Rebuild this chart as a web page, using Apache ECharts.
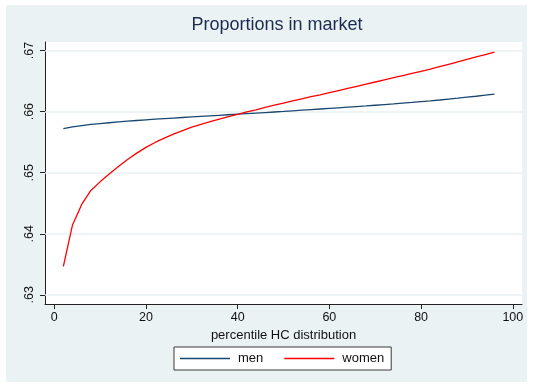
<!DOCTYPE html>
<html>
<head>
<meta charset="utf-8">
<script src="https://cdn.jsdelivr.net/npm/echarts@6/dist/echarts.min.js"></script>
<style>
  html, body { margin: 0; padding: 0; background: #ffffff; }
  #chart { width: 533px; height: 387px; }
</style>
</head>
<body>
<div id="chart"></div>
<script>
// Percentiles of the HC distribution (x values)
const percentiles = [2, 4, 6, 8, 10, 12, 14, 16, 18, 20, 22, 24, 26, 28, 30, 32, 34, 36, 38, 40,
  42, 44, 46, 48, 50, 52, 54, 56, 58, 60, 62, 64, 66, 68, 70, 72, 74, 76, 78, 80,
  82, 84, 86, 88, 90, 92, 94, 96];

// Proportion in market, men
const men = [0.65720, 0.65750, 0.65772, 0.65790, 0.65805, 0.65818, 0.65831, 0.65843, 0.65855, 0.65866,
  0.65876, 0.65886, 0.65895, 0.65904, 0.65913, 0.65922, 0.65931, 0.65940, 0.65949, 0.65958,
  0.65967, 0.65976, 0.65985, 0.65994, 0.66003, 0.66013, 0.66023, 0.66033, 0.66043, 0.66053,
  0.66063, 0.66073, 0.66083, 0.66093, 0.66104, 0.66115, 0.66126, 0.66138, 0.66150, 0.66163,
  0.66176, 0.66190, 0.66205, 0.66220, 0.66236, 0.66252, 0.66269, 0.66286];

// Proportion in market, women
const women = [0.63465, 0.64145, 0.64480, 0.64710, 0.64850, 0.64980, 0.65100, 0.65215, 0.65320, 0.65415,
  0.65495, 0.65565, 0.65630, 0.65690, 0.65745, 0.65790, 0.65835, 0.65878, 0.65918, 0.65955,
  0.65995, 0.66030, 0.66070, 0.66105, 0.66140, 0.66175, 0.66210, 0.66245, 0.66275, 0.66310,
  0.66345, 0.66380, 0.66415, 0.66450, 0.66485, 0.66520, 0.66555, 0.66590, 0.66625, 0.66660,
  0.66695, 0.66735, 0.66775, 0.66815, 0.66855, 0.66895, 0.66935, 0.66975];

// Axis tick positions
const xTicks = [0, 20, 40, 60, 80, 100];
const yTicks = [0.63, 0.64, 0.65, 0.66, 0.67];

const pairs = (ys) => percentiles.map((p, i) => [p, ys[i]]);

const chart = echarts.init(document.getElementById('chart'), null, { renderer: 'canvas' });

const axisColor = '#222222';
const bgColor = '#eaf2f3';
const font = 'Liberation Sans, Arial, sans-serif';
// thin horizontal bar used as the legend key
const lineKey = 'path://M0,0H50V1.3H0Z';

chart.setOption({
  animation: false,
  backgroundColor: '#ffffff',
  graphic: [{
    type: 'rect',
    z: -10,
    shape: { x: 6, y: 5, width: 521, height: 377 },
    style: { fill: bgColor }
  }],
  title: {
    text: 'Proportions in market',
    left: 277,
    textAlign: 'center',
    top: 16,
    padding: 0,
    textStyle: { fontFamily: font, fontSize: 18, fontWeight: 'normal', color: '#1c2b4f' }
  },
  grid: {
    left: 45, top: 42, right: 11, bottom: 83,
    show: true, backgroundColor: '#ffffff', borderWidth: 0
  },
  legend: {
    data: [{ name: 'men', icon: lineKey }, { name: 'women', icon: lineKey }],
    left: 174, top: 347,
    padding: [5, 7, 5, 6],
    itemWidth: 50, itemHeight: 14, itemGap: 21,
    symbolKeepAspect: true,
    backgroundColor: '#ffffff',
    borderColor: '#3a3a3a', borderWidth: 1, borderRadius: 0,
    textStyle: { fontFamily: font, fontSize: 13, color: '#111111', padding: [0, 0, 0, 3] }
  },
  xAxis: {
    type: 'value',
    min: -2, max: 102,
    name: 'percentile HC distribution',
    nameLocation: 'middle',
    nameGap: 19,
    nameTextStyle: { fontFamily: font, fontSize: 13, color: '#111111' },
    axisLine: { show: true, onZero: false, lineStyle: { color: axisColor, width: 1 } },
    axisTick: { show: true, length: 5, customValues: xTicks, lineStyle: { color: axisColor } },
    axisLabel: { customValues: xTicks, margin: 7, fontFamily: font, fontSize: 12.5, color: '#111111' },
    splitLine: { show: false }
  },
  yAxis: {
    type: 'value',
    min: 0.6285, max: 0.6714,
    axisLine: { show: true, onZero: false, lineStyle: { color: axisColor, width: 1 } },
    axisTick: { show: true, length: 5, customValues: yTicks, lineStyle: { color: axisColor } },
    axisLabel: {
      customValues: yTicks, rotate: 90, margin: 9,
      fontFamily: font, fontSize: 12.5, color: '#111111',
      formatter: (v) => v.toFixed(2).replace(/^0/, '')
    },
    splitLine: { show: false }
  },
  series: [
    {
      // horizontal grid lines at each y tick, kept beneath the data lines
      name: 'grid',
      type: 'line',
      data: [],
      z: 1,
      silent: true,
      markLine: {
        z: 1,
        silent: true,
        symbol: 'none',
        label: { show: false },
        emphasis: { disabled: true },
        lineStyle: { color: bgColor, width: 1.5, type: 'solid' },
        data: yTicks.map((v) => ({ yAxis: v }))
      }
    },
    {
      name: 'men',
      type: 'line',
      z: 3,
      data: pairs(men),
      showSymbol: false,
      symbol: 'none',
      lineStyle: { color: '#1a476f', width: 1.3 },
      itemStyle: { color: '#1a476f' }
    },
    {
      name: 'women',
      type: 'line',
      z: 3,
      data: pairs(women),
      showSymbol: false,
      symbol: 'none',
      lineStyle: { color: '#ff0000', width: 1.3 },
      itemStyle: { color: '#ff0000' }
    }
  ]
});
</script>
</body>
</html>
